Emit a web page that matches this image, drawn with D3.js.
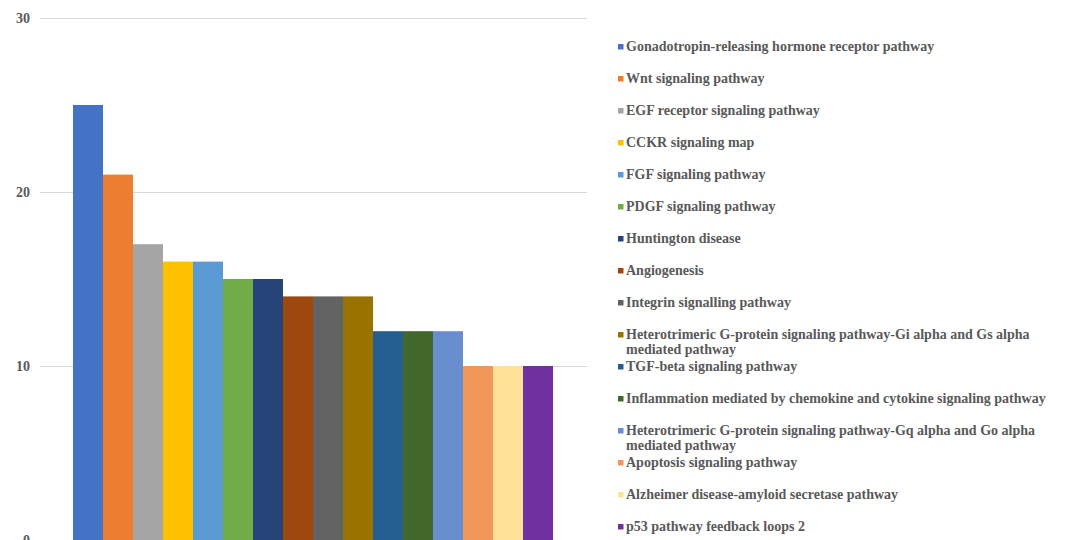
<!DOCTYPE html>
<html>
<head>
<meta charset="utf-8">
<script src="https://cdn.jsdelivr.net/npm/d3@7"></script>
<style>
  html, body { margin: 0; padding: 0; background: #fff; }
  svg { display: block; }
  text { font-family: "Liberation Serif", "Times New Roman", serif; font-weight: bold; fill: #595959; }
</style>
</head>
<body>
<svg id="chart" width="1068" height="540"></svg>
<script>
// Pathway names (legend order = bar order)
const pathways = [
  "Gonadotropin-releasing hormone receptor pathway",
  "Wnt signaling pathway",
  "EGF receptor signaling pathway",
  "CCKR signaling map",
  "FGF signaling pathway",
  "PDGF signaling pathway",
  "Huntington disease",
  "Angiogenesis",
  "Integrin signalling pathway",
  "Heterotrimeric G-protein signaling pathway-Gi alpha and Gs alpha mediated pathway",
  "TGF-beta signaling pathway",
  "Inflammation mediated by chemokine and cytokine signaling pathway",
  "Heterotrimeric G-protein signaling pathway-Gq alpha and Go alpha mediated pathway",
  "Apoptosis signaling pathway",
  "Alzheimer disease-amyloid secretase pathway",
  "p53 pathway feedback loops 2"
];

// Gene counts per pathway
const counts = [25, 21, 17, 16, 16, 15, 15, 14, 14, 14, 12, 12, 12, 10, 10, 10];

// Series colours
const colors = [
  "#4472C4", "#ED7D31", "#A5A5A5", "#FFC000", "#5B9BD5", "#70AD47",
  "#264478", "#9E480E", "#636363", "#997300", "#255E91", "#43682B",
  "#698ED0", "#F1975A", "#FFE197", "#7030A0"
];

// Value axis ticks
const yTicks = [0, 10, 20, 30];

const svg = d3.select("#chart");

const y = d3.scaleLinear().domain([0, 30]).range([540, 18]);
const x = d3.scaleBand().domain(pathways).range([73, 553]).padding(0);
const color = d3.scaleOrdinal().domain(pathways).range(colors);

const plotLeft = 40, plotRight = 587;

// Horizontal gridlines
svg.append("g")
  .selectAll("line")
  .data(yTicks.filter(d => d > 0))
  .join("line")
  .attr("x1", plotLeft)
  .attr("x2", plotRight)
  .attr("y1", d => y(d) + 0.5)
  .attr("y2", d => y(d) + 0.5)
  .attr("stroke", "#d9d9d9")
  .attr("stroke-width", 1);

// Value axis labels
const yAxis = d3.axisLeft(y).tickValues(yTicks).tickSize(0).tickPadding(0);
const yg = svg.append("g").attr("transform", "translate(30,0)").call(yAxis);
yg.select(".domain").remove();
yg.selectAll("text")
  .attr("font-size", 14)
  .attr("font-family", "Liberation Serif, serif")
  .attr("font-weight", "bold")
  .attr("fill", "#595959")
  .attr("dy", "0.35em");

// Bars
svg.append("g")
  .selectAll("rect")
  .data(pathways)
  .join("rect")
  .attr("x", d => x(d))
  .attr("width", x.bandwidth())
  .attr("y", (d, i) => y(counts[i]))
  .attr("height", (d, i) => y(0) - y(counts[i]))
  .attr("fill", d => color(d));

// Legend
const legendX = 618, textX = 626, rowTop = 46.5, rowStep = 32, maxW = 435, lineH = 14.3;
const legend = svg.append("g");
pathways.forEach((name, i) => {
  const cy = rowTop + i * rowStep;
  legend.append("rect")
    .attr("x", legendX)
    .attr("y", cy - 2.5)
    .attr("width", 5.5)
    .attr("height", 5.5)
    .attr("fill", color(name));
  const t = legend.append("text")
    .attr("x", textX)
    .attr("y", cy + 4.8)
    .attr("font-size", 14);
  // word-wrap long names
  const words = name.split(" ");
  let line = [];
  let tspan = t.append("tspan").attr("x", textX).attr("y", cy + 4.8);
  let lineNo = 0;
  words.forEach(w => {
    line.push(w);
    tspan.text(line.join(" "));
    if (tspan.node().getComputedTextLength() > maxW && line.length > 1) {
      line.pop();
      tspan.text(line.join(" "));
      line = [w];
      lineNo++;
      tspan = t.append("tspan").attr("x", textX).attr("y", cy + 4.8 + lineNo * lineH).text(w);
    }
  });
});
</script>
</body>
</html>
